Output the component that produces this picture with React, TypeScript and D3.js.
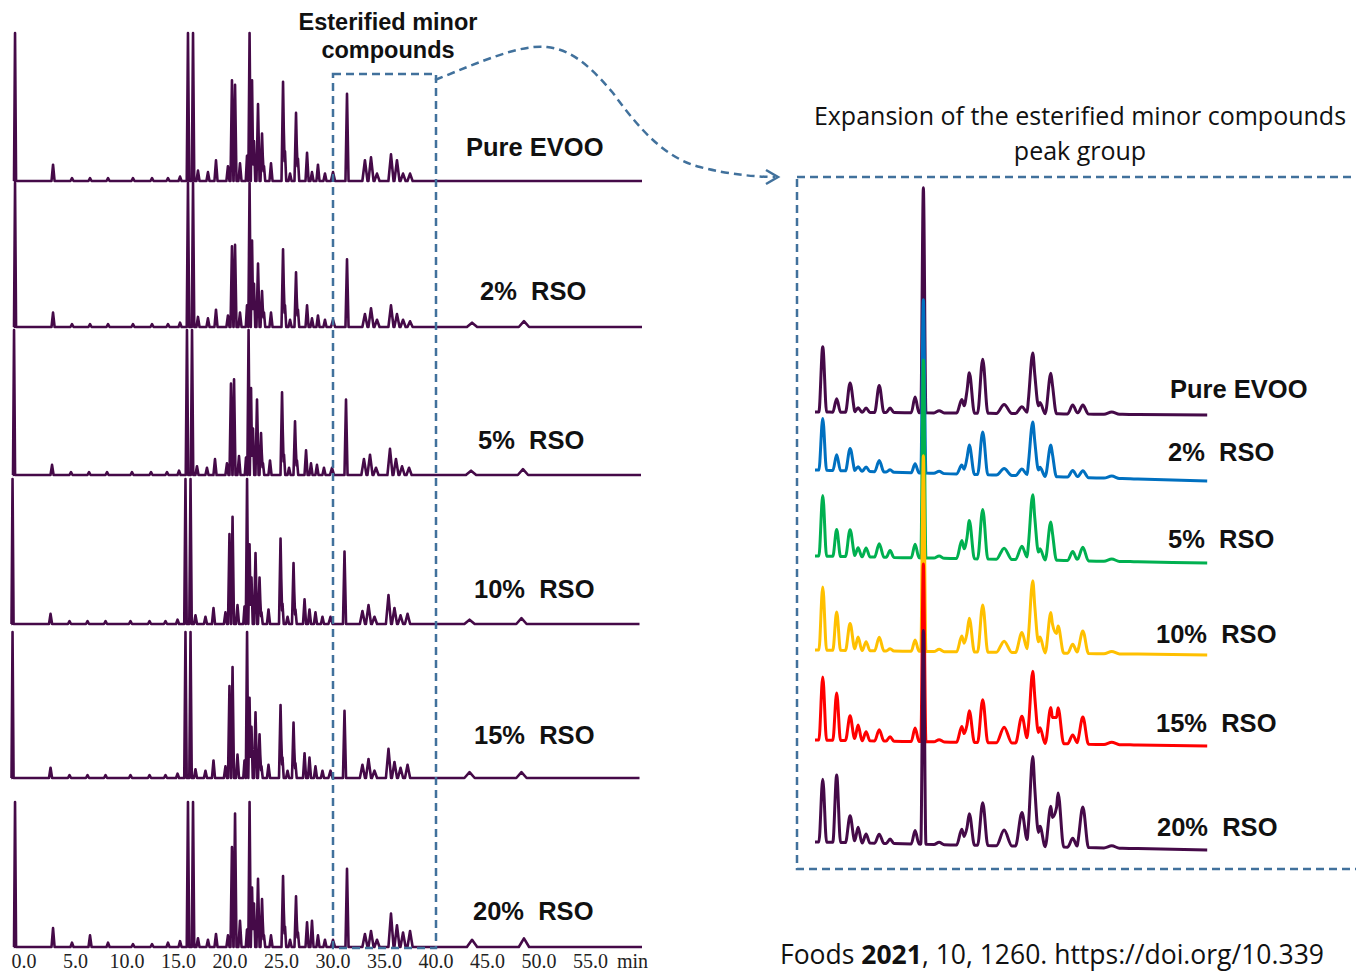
import React from 'react';
import * as d3 from 'd3';

// Left panel: retention times (min) of the peaks
const peakTimes = [-0.87, 2.82, 4.66, 6.41, 8.16, 10.58, 12.43, 13.98, 15.15, 15.92, 16.41, 16.89, 17.86, 18.64, 19.8, 20.19, 20.49, 20.97, 21.65, 21.9, 22.14, 22.33, 22.72, 23.11, 23.3, 23.98, 25.15, 25.34, 25.83, 26.41, 26.6, 27.48, 27.96, 28.54, 29.22, 30.0, 31.36, 33.1, 33.69, 34.27, 35.63, 36.21, 36.8, 37.48, 43.5, 48.54];
const peakWidths = [0.1, 0.15, 0.15, 0.15, 0.15, 0.15, 0.15, 0.15, 0.15, 0.12, 0.12, 0.15, 0.15, 0.15, 0.15, 0.14, 0.14, 0.15, 0.12, 0.12, 0.12, 0.12, 0.15, 0.15, 0.12, 0.15, 0.15, 0.12, 0.15, 0.15, 0.12, 0.15, 0.15, 0.15, 0.15, 0.2, 0.15, 0.25, 0.25, 0.25, 0.25, 0.25, 0.25, 0.25, 0.5, 0.5];

// relative heights (1 = clipped at the top of the strip)
const evooPeaks = [1, .11, .02, .02, .02, .02, .02, .02, .03, 1, 1, .07, .06, .14, .1, .68, .65, .12, .17, 1, .68, .27, .52, .32, .1, .12, .67, .2, .05, .46, .15, .19, .06, .11, .05, .06, .59, .14, .16, .05, .18, .14, .05, .05, 0, 0];
const rso2Peaks = [1, .1, .02, .02, .02, .02, .02, .02, .03, 1, 1, .07, .06, .12, .08, .56, .57, .1, .15, 1, .6, .3, .44, .25, .1, .1, .54, .15, .05, .38, .12, .15, .06, .08, .05, .05, .47, .09, .13, .05, .15, .09, .05, .04, .03, .04];
const rso5Peaks = [1, .07, .02, .02, .02, .02, .02, .02, .03, 1, 1, .06, .05, .11, .08, .63, .66, .13, .12, 1, .6, .32, .52, .29, .08, .1, .57, .14, .05, .37, .1, .17, .08, .07, .05, .05, .52, .11, .14, .05, .18, .11, .06, .05, .03, .04];
const rso10Peaks = [1, .07, .02, .02, .02, .02, .02, .02, .03, 1, 1, .06, .05, .11, .08, .62, .74, .13, .12, 1, .55, .32, .49, .32, .08, .1, .59, .14, .05, .42, .1, .17, .1, .08, .05, .05, .5, .09, .13, .05, .2, .11, .06, .07, .03, .04];
const rso15Peaks = [1, .07, .02, .02, .02, .02, .02, .02, .03, 1, 1, .06, .05, .12, .08, .63, .76, .16, .12, 1, .55, .35, .45, .3, .08, .09, .5, .14, .05, .38, .1, .17, .14, .08, .05, .05, .46, .09, .13, .05, .2, .11, .07, .09, .04, .04];
const rso20Peaks = [1, .13, .03, .08, .03, .02, .02, .03, .04, 1, 1, .06, .05, .09, .08, .69, .92, .18, .12, 1, .41, .3, .47, .33, .08, .08, .49, .14, .05, .35, .1, .17, .18, .08, .05, .05, .54, .09, .11, .05, .23, .15, .1, .11, .05, .06];

const sampleLabels = ['Pure EVOO', '2%  RSO', '5%  RSO', '10%  RSO', '15%  RSO', '20%  RSO'];
const axisTicks = [0, 5, 10, 15, 20, 25, 30, 35, 40, 45, 50, 55];

// Right panel: esterified minor compounds region (min) and intensities (Pure EVOO main peak = 100)
const expTimes = [27.5, 28.04, 28.56, 28.87, 29.18, 29.69, 30.11, 31.08, 31.4, 32.01, 32.89, 33.18, 33.7, 34.53, 35.22, 35.64, 35.92, 36.34, 36.62, 37.19, 37.58, 38.7, 39.41];
const expWidths = [0.15, 0.15, 0.18, 0.15, 0.15, 0.18, 0.15, 0.15, 0.1, 0.2, 0.2, 0.2, 0.2, 0.3, 0.25, 0.22, 0.2, 0.22, 0.22, 0.2, 0.22, 0.3, 0.3];
const expEvoo = [29, 6, 13, 2, 2, 12, 2, 7, 100, 1, 6, 18, 24, 4, 3, 27, 5, 18, 0, 4, 4, 1, 0];
const expRso2 = [23, 7, 10, 2, 2, 5, 1, 4, 77, 1, 4, 13, 19, 3, 3, 24, 4, 14, 0, 3, 3, 1, 0];
const expRso5 = [27, 12, 12, 4, 4, 6, 3, 6, 88, 1, 8, 17, 22, 5, 6, 29, 5, 17, 0, 4, 6, 1, 0];
const expRso10 = [28, 17, 12, 6, 4, 6, 1, 5, 87, 1, 7, 15, 21, 5, 9, 32, 7, 18, 12, 4, 10, 1, 0];
const expRso15 = [28, 21, 11, 7, 4, 5, 2, 6, 79, 1, 7, 14, 19, 7, 12, 32, 7, 16, 16, 4, 12, 1, 0];
const expRso20 = [28, 30, 12, 7, 4, 4, 2, 6, 95, 1, 7, 14, 19, 7, 15, 40, 9, 18, 24, 4, 18, 1, 0];

const PURPLE = '#450a48';
const BOX = '#41719c';
const expColors = [PURPLE, '#0070c0', '#00b050', '#ffc000', '#ff0000', PURPLE];

// layout of the strips
const rowBase = [181, 327, 475, 624, 778, 947];
const rowTop = [33, 183, 330, 479, 632, 802];
const rowShift = [0, 0, -1, -2.5, -2.5, 0];
const leftLabelPos = [[466, 147], [480, 291], [478, 440], [474, 589], [474, 735], [473, 911]];
const expBaseL = [412, 470, 556, 650, 740, 842];
const expBaseR = [415, 481, 563, 655, 746, 850];
const rightLabelPos = [[1170, 389], [1168, 452], [1168, 539], [1156, 634], [1156, 723], [1157, 827]];

type Pt = [number, number];

// sum of triangular peaks, evaluated at every peak vertex
function profile(times: number[], widths: number[], heights: number[], t0: number, t1: number): Pt[] {
  const ts = new Set<number>([t0, t1]);
  times.forEach((t, i) => { ts.add(t - widths[i]); ts.add(t); ts.add(t + widths[i]); });
  const sorted = Array.from(ts).filter(t => t >= t0 && t <= t1).sort((a, b) => a - b);
  return sorted.map(t => [t, d3.sum(times, (ti, i) => heights[i] * Math.max(0, 1 - Math.abs(t - ti) / widths[i]))] as Pt);
}

const SANS = '"Liberation Sans", Arial, sans-serif';
const SERIF = '"Liberation Serif", "Times New Roman", serif';

export default function App() {
  const xL = d3.scaleLinear().domain([0, 55]).range([24, 590.5]);
  const xR = d3.scaleLinear().domain([27.2, 42.4]).range([815, 1207.2]);
  const leftSeries = [evooPeaks, rso2Peaks, rso5Peaks, rso10Peaks, rso15Peaks, rso20Peaks];
  const rightSeries = [expEvoo, expRso2, expRso5, expRso10, expRso15, expRso20];

  const leftPaths = leftSeries.map((h, r) => {
    const y = d3.scaleLinear().domain([0, 1]).range([rowBase[r], rowTop[r]]).clamp(true);
    const line = d3.line<Pt>().x(d => xL(d[0]) + rowShift[r]).y(d => y(d[1]));
    return line(profile(peakTimes, peakWidths, h, -1, 60)) || '';
  });

  const rightPaths = rightSeries.map((h, r) => {
    const base = d3.scaleLinear().domain([27.2, 42.4]).range([expBaseL[r], expBaseR[r]]);
    const line = d3.line<Pt>().x(d => xR(d[0])).y(d => base(d[0]) - d[1] * 2.25).curve(d3.curveMonotoneX);
    return line(profile(expTimes, expWidths, h, 27.2, 42.4)) || '';
  });

  return (
    <svg width={1356} height={974} style={{ position: 'absolute', left: 0, top: 0, background: '#fff' }}>
      {/* full chromatograms */}
      {leftPaths.map((d, i) => (
        <path key={i} d={d} fill="none" stroke={PURPLE} strokeWidth={2.6} strokeLinejoin="round" />
      ))}
      {sampleLabels.map((s, i) => (
        <text key={i} x={leftLabelPos[i][0]} y={leftLabelPos[i][1]} dominantBaseline="central"
          fontFamily={SANS} fontWeight="bold" fontSize={25.5} fill="#111" style={{ whiteSpace: 'pre' }}>{s}</text>
      ))}
      {/* time axis */}
      {axisTicks.map(t => (
        <text key={t} x={xL(t)} y={961} textAnchor="middle" dominantBaseline="central"
          fontFamily={SERIF} fontSize={20} fill="#222">{d3.format('.1f')(t)}</text>
      ))}
      <text x={617} y={961} dominantBaseline="central" fontFamily={SERIF} fontSize={20} fill="#222">min</text>

      {/* highlighted region */}
      <rect x={xL(30)} y={74} width={xL(40) - xL(30)} height={874} fill="none" stroke={BOX} strokeWidth={2.5} strokeDasharray="8 5" />
      <text x={388} y={22} textAnchor="middle" dominantBaseline="central" fontFamily={SANS} fontWeight="bold" fontSize={23.5} fill="#111">Esterified minor</text>
      <text x={388} y={50} textAnchor="middle" dominantBaseline="central" fontFamily={SANS} fontWeight="bold" fontSize={23.5} fill="#111">compounds</text>
      <path d="M435,80 C480,62 520,44 547,47 C575,50 595,72 613,93 C640,130 665,158 700,167 C730,175 760,177 775,177"
        fill="none" stroke={BOX} strokeWidth={2.5} strokeDasharray="8 5" />
      <path d="M766,170 L778,177 L766,184" fill="none" stroke={BOX} strokeWidth={2.5} />

      {/* expansion */}
      <rect x={797} y={177} width={600} height={692} fill="none" stroke={BOX} strokeWidth={2.5} strokeDasharray="8 5" />
      <text x={1080} y={115} textAnchor="middle" dominantBaseline="central" fontFamily='"Open Sans", sans-serif' fontSize={25} fill="#111">Expansion of the esterified minor compounds</text>
      <text x={1080} y={150} textAnchor="middle" dominantBaseline="central" fontFamily='"Open Sans", sans-serif' fontSize={25} fill="#111">peak group</text>
      {rightPaths.map((d, i) => (
        <path key={i} d={d} fill="none" stroke={expColors[i]} strokeWidth={3} strokeLinejoin="round" />
      ))}
      {sampleLabels.map((s, i) => (
        <text key={i} x={rightLabelPos[i][0]} y={rightLabelPos[i][1]} dominantBaseline="central"
          fontFamily={SANS} fontWeight="bold" fontSize={25.5} fill="#111" style={{ whiteSpace: 'pre' }}>{s}</text>
      ))}

      <text x={780} y={954} dominantBaseline="central" fontFamily='"Open Sans", sans-serif' fontSize={26.5} fill="#111">
        Foods <tspan fontWeight="bold">2021</tspan>, 10, 1260. https://doi.org/10.339
      </text>
    </svg>
  );
}
